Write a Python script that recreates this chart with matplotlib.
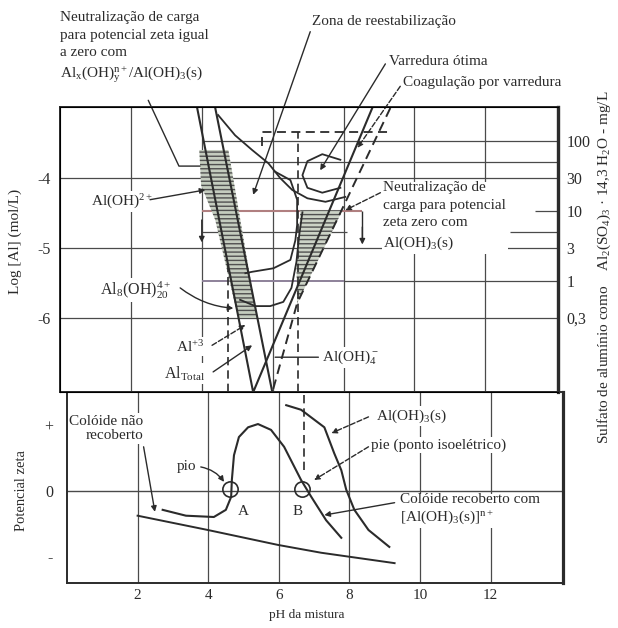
import numpy as np
import matplotlib
matplotlib.use("Agg")
import matplotlib.pyplot as plt

plt.rcParams["font.family"] = ["Liberation Serif", "DejaVu Serif"]
plt.rcParams["mathtext.fontset"] = "custom"
plt.rcParams["mathtext.rm"] = "Liberation Serif"
plt.rcParams["mathtext.it"] = "Liberation Serif:italic"
plt.rcParams["mathtext.default"] = "rm"
plt.rcParams["hatch.linewidth"] = 1.0

COR = "#2b2b2b"
COR_GRADE = "#4a4a4a"
MASSA_MOLAR = 594.4  # Al2(SO4)3 . 14,3 H2O (g/mol)

ph_grade = [2, 4, 6, 8, 10, 12]
log_grade = [-4, -5, -6]

# curvas de solubilidade (log [Al] vs pH)
ph_al_total = [3.87, 5.45, 8.81]
log_al_total = [-3.0, -7.06, -3.0]
ph_al3 = [4.38, 5.99]
log_al3 = [-3.0, -7.06]
ph_aloh4 = [9.32, 6.69, 5.99]
log_aloh4 = [-3.0, -5.79, -7.06]

# regioes hachuradas
ph_faixa = [3.93, 4.75, 5.56, 5.03, 4.38, 3.98]
log_faixa = [-3.6, -3.6, -6.0, -6.0, -4.6, -4.1]
ph_tri = [6.78, 7.97, 6.69, 6.67, 6.75]
log_tri = [-4.46, -4.46, -5.79, -5.2, -4.81]

# contornos das zonas
ph_reestab = [4.46, 4.94, 5.42, 5.88, 6.21, 6.55, 6.98, 7.49, 8.05]
log_reestab = [-3.1, -3.39, -3.6, -3.79, -4.0, -4.17, -4.29, -4.34, -4.27]
ph_otima = [7.91, 7.40, 6.98, 6.84, 6.98, 7.40, 7.91]
log_otima = [-3.74, -3.66, -3.76, -3.96, -4.14, -4.21, -4.14]
ph_zona_u = [6.07, 6.50, 6.69, 6.69, 6.64, 6.50, 6.02, 5.42, 5.23]
log_zona_u = [-3.91, -4.03, -4.31, -4.67, -4.89, -5.17, -5.29, -5.34, -5.36]
ph_zona_inf = [5.08, 5.51, 5.93, 6.30, 6.53, 6.67, 6.75, 6.84]
log_zona_inf = [-5.74, -5.83, -5.83, -5.77, -5.57, -5.2, -4.81, -4.49]

# limites tracejados da varredura
ph_ret = [5.71, 5.71, 9.32]
log_ret = [-3.55, -3.34, -3.34]
ph_tracejado_b = 6.72
ph_tracejado_a = 4.75

# doses de sulfato de aluminio (eixo direito)
dose_ticks = [100, 30, 10, 3, 1, 0.3]
dose_labels = ["100", "30", "10", "3", "1", "0,3"]

# potencial zeta
ph_coloide = [2.0, 3.99, 5.98, 7.2, 9.28]
zeta_coloide = [-0.38, -0.6, -0.83, -0.95, -1.11]
ph_zeta_a = [2.71, 3.37, 4.16, 4.5, 4.65, 4.67, 4.73, 4.87, 5.13, 5.41,
             5.78, 6.15, 6.63, 6.92, 7.34, 7.77]
zeta_a = [-0.29, -0.38, -0.40, -0.29, -0.09, 0.17, 0.55, 0.83, 0.98, 1.03,
          0.94, 0.68, 0.17, -0.09, -0.45, -0.72]
ph_zeta_b = [6.21, 6.63, 7.29, 7.57, 7.77, 7.91, 8.14, 8.54, 9.13]
zeta_b = [1.32, 1.25, 0.98, 0.58, 0.32, 0.02, -0.29, -0.6, -0.86]
ph_pontos = [4.62, 6.66]
zeta_pontos = [0.03, 0.03]


def dose_para_log(mg):
    return np.log10(np.asarray(mg, dtype=float) * 2 / (MASSA_MOLAR * 1000))


def seta(ax, alvo, origem, estilo="-|>", ls="-", rad=0.0, **kw):
    ax.annotate("", xy=alvo, xytext=origem, zorder=6, annotation_clip=False,
                arrowprops=dict(arrowstyle=estilo, color=COR, lw=1.0, ls=ls,
                                shrinkA=0, shrinkB=0, mutation_scale=8,
                                connectionstyle=kw.get("con", f"arc3,rad={rad}")))


fig = plt.figure(figsize=(6.18, 6.28), dpi=100)
ax = fig.add_axes([0.0971, 0.3758, 0.8058, 0.4538])
axz = fig.add_axes([0.1084, 0.0717, 0.8026, 0.3041])

for a in (ax, axz):
    a.set_xlim(0, 14.05)
    for s in a.spines.values():
        s.set_linewidth(1.4)
        s.set_color(COR)
    a.spines["right"].set_linewidth(2.3)
    for p in ph_grade:
        a.axvline(p, color=COR_GRADE, lw=0.9, zorder=1)

ax.set_ylim(-7.057, -2.986)
axz.set_ylim(-1.415, 1.523)

# ---------------- painel superior ----------------
for v in log_grade:
    ax.axhline(v, color=COR_GRADE, lw=0.9, zorder=1)
ax.hlines(dose_para_log([100, 50]), 4, 14.05, color=COR_GRADE, lw=0.9, zorder=1)
ax.hlines(dose_para_log([5]), 4, 8.1, color=COR_GRADE, lw=0.9, zorder=1)
ax.hlines(dose_para_log([5]), 12.7, 14.05, color=COR_GRADE, lw=0.9, zorder=1)
ax.hlines(dose_para_log([10]), 4, 8.53, color="#b07f80", lw=1.5, zorder=1.5)
ax.hlines(dose_para_log([10]), 13.4, 14.05, color=COR_GRADE, lw=0.9, zorder=1)
ax.hlines(dose_para_log([1]), 4, 8.0, color="#8d8199", lw=1.4, zorder=1.5)
ax.hlines(dose_para_log([1]), 8.0, 14.05, color=COR_GRADE, lw=0.9, zorder=1)

ax.fill(ph_faixa, log_faixa, facecolor="#c4ccbe", edgecolor="#505050",
        hatch="----", lw=0, zorder=2)
ax.fill(ph_tri, log_tri, facecolor="#ccd3c6", edgecolor="#505050",
        hatch="----", lw=0, zorder=2)

ax.plot(ph_al_total, log_al_total, color=COR, lw=1.5, zorder=4)
ax.plot(ph_al3, log_al3, color=COR, lw=1.5, zorder=4)
ax.plot(ph_aloh4, log_aloh4, color=COR, lw=1.4, ls=(0, (5, 3)), zorder=4)
ax.plot(ph_reestab, log_reestab, color=COR, lw=1.3, zorder=4)
ax.plot(ph_otima, log_otima, color=COR, lw=1.3, zorder=4)
ax.plot(ph_zona_u, log_zona_u, color=COR, lw=1.3, zorder=4)
ax.plot(ph_zona_inf, log_zona_inf, color=COR, lw=1.3, zorder=4)
ax.plot(ph_ret, log_ret, color=COR, lw=1.3, ls=(0, (5, 3)), zorder=4)
ax.vlines(ph_tracejado_b, -7.06, -3.34, color=COR, lw=1.2, ls=(0, (5, 3)), zorder=4)
ax.vlines(ph_tracejado_a, -7.06, -5.17, color=COR, lw=1.2, ls=(0, (5, 3)), zorder=4)

# setas sobre as linhas
seta(ax, (4.0, -4.92), (4.0, -4.6))
ax.vlines(8.53, -4.9, dose_para_log(10), color=COR, lw=1.0, zorder=4)
seta(ax, (8.53, -4.95), (8.53, -4.7))

ax.set_yticks(log_grade)
ax.set_yticklabels([f"-{abs(v)}" for v in log_grade], fontsize=11.5)
ax.tick_params(axis="y", length=0, pad=7, colors=COR)
ax.tick_params(axis="x", bottom=False, labelbottom=False)

axr = ax.twinx()
axr.set_ylim(ax.get_ylim())
axr.set_yticks(dose_para_log(dose_ticks))
axr.set_yticklabels(dose_labels, fontsize=11.5)
axr.tick_params(axis="y", length=0, pad=6, colors=COR)
axr.spines["right"].set_linewidth(2.3)
axr.spines["right"].set_color(COR)

caixa = dict(facecolor="white", edgecolor="none", pad=1.0)
FS = 11

ax.text(0.0, -1.62, "Neutralização de carga\npara potencial zeta igual\na zero com\n"
        "Al$_x$(OH)$_y^{n+}$/Al(OH)$_3$(s)", ha="left", va="top", fontsize=FS,
        linespacing=1.42, color=COR)
seta(ax, (3.95, -3.83), (2.49, -2.89), estilo="-", con="angle,angleA=-65,angleB=180,rad=0")

ax.text(7.12, -1.77, "Zona de reestabilização", ha="left", va="center", fontsize=FS, color=COR)
seta(ax, (5.45, -4.24), (7.06, -1.91))
ax.text(9.27, -2.34, "Varredura ótima", ha="left", va="center", fontsize=FS, color=COR)
seta(ax, (7.34, -3.89), (9.18, -2.37))
ax.text(9.69, -2.63, "Coagulação por varredura", ha="left", va="center", fontsize=FS, color=COR)
seta(ax, (8.39, -3.57), (9.6, -2.69), ls="--")

ax.text(1.75, -4.34, "Al(OH)$^{2+}$", ha="center", va="center", fontsize=FS,
        color=COR, bbox=caixa, zorder=3)
seta(ax, (4.10, -4.17), (2.54, -4.31))

ax.text(9.12, -4.05, "Neutralização de\ncarga para potencial\nzeta zero com\nAl(OH)$_3$(s)",
        ha="left", va="top", fontsize=FS, linespacing=1.45, color=COR, bbox=caixa, zorder=3)
seta(ax, (8.05, -4.46), (9.04, -4.21), ls="--")

ax.text(2.12, -5.6, "Al$_8$(OH)$_{20}^{4+}$", ha="center", va="center", fontsize=FS + 0.5,
        color=COR, bbox=caixa, zorder=3)
seta(ax, (4.89, -5.86), (3.39, -5.57), rad=0.15)
ax.text(3.67, -6.41, "Al$^{+3}$", ha="center", va="center", fontsize=FS,
        color=COR, bbox=caixa, zorder=3)
seta(ax, (5.23, -6.1), (4.29, -6.39), ls="--")
ax.text(3.53, -6.79, "Al$_{\\mathrm{Total}}$", ha="center", va="center", fontsize=FS + 0.5,
        color=COR, bbox=caixa, zorder=3)
seta(ax, (5.42, -6.39), (4.32, -6.77))
ax.text(7.4, -6.56, "Al(OH)$_4^-$", ha="left", va="center", fontsize=FS,
        color=COR, bbox=caixa, zorder=3)
seta(ax, (6.07, -6.56), (7.29, -6.56), estilo="-")

# ---------------- painel inferior (potencial zeta) ----------------
axz.axhline(0, color=COR_GRADE, lw=1.0, zorder=1)
axz.vlines(ph_tracejado_b, 0.32, 1.523, color=COR, lw=1.2, ls=(0, (5, 3)), zorder=4)
axz.plot(ph_coloide, zeta_coloide, color=COR, lw=1.4, zorder=4)
axz.plot(ph_zeta_a, zeta_a, color=COR, lw=1.5, zorder=4)
axz.plot(ph_zeta_b, zeta_b, color=COR, lw=1.5, zorder=4)
axz.plot(ph_pontos, zeta_pontos, ls="none", marker="o", ms=11, mfc="none",
         mec=COR, mew=1.2, zorder=5)

axz.set_yticks([-1, 0, 1])
axz.set_yticklabels(["-", "0", "+"], fontsize=11.5)
axz.tick_params(axis="y", length=0, pad=10, colors=COR)
axz.set_xticks(ph_grade)
axz.set_xticklabels([str(p) for p in ph_grade], fontsize=11)
axz.tick_params(axis="x", length=0, pad=4, colors=COR)

axz.text(2.17, 0.96, "Colóide não\nrecoberto", ha="right", va="center", fontsize=FS,
         linespacing=1.15, color=COR, bbox=caixa, zorder=3)
seta(axz, (2.49, -0.32), (2.17, 0.68))
axz.text(3.39, 0.38, "pio", ha="center", va="center", fontsize=FS, color=COR,
         bbox=caixa, zorder=3)
seta(axz, (4.45, 0.14), (3.79, 0.37), rad=-0.2)
axz.text(4.99, -0.32, "A", ha="center", va="center", fontsize=FS, color=COR)
axz.text(6.52, -0.32, "B", ha="center", va="center", fontsize=FS, color=COR)
axz.text(8.76, 1.15, "Al(OH)$_3$(s)", ha="left", va="center", fontsize=FS,
         color=COR, bbox=caixa, zorder=3)
seta(axz, (7.49, 0.89), (8.54, 1.14), ls="--")
axz.text(8.62, 0.71, "pie (ponto isoelétrico)", ha="left", va="center", fontsize=FS,
         color=COR, bbox=caixa, zorder=3)
seta(axz, (7.0, 0.17), (8.54, 0.68), ls="--")
axz.text(9.42, -0.29, "Colóide recoberto com\n[Al(OH)$_3$(s)]$^{n+}$", ha="left", va="center",
         fontsize=FS, linespacing=1.2, color=COR, bbox=caixa, zorder=3)
seta(axz, (7.29, -0.37), (9.28, -0.18))

# ---------------- rotulos dos eixos ----------------
fig.text(15 / 618, 1 - 241 / 628, "Log [Al] (mol/L)", rotation=90, ha="center",
         va="center", fontsize=11, color=COR)
fig.text(22 / 618, 1 - 491 / 628, "Potencial zeta", rotation=90, ha="center",
         va="center", fontsize=10.5, color=COR)
fig.text(307 / 618, 1 - 615 / 628, "pH da mistura", ha="center", va="center",
         fontsize=9.5, color=COR)
fig.text(604 / 618, 1 - 267 / 628,
         "Sulfato de alumínio como    Al$_2$(SO$_4$)$_3$ · 14,3 H$_2$O - mg/L",
         rotation=90, ha="center", va="center", fontsize=11, color=COR)

fig.savefig("out.png", dpi=100, facecolor="white")
